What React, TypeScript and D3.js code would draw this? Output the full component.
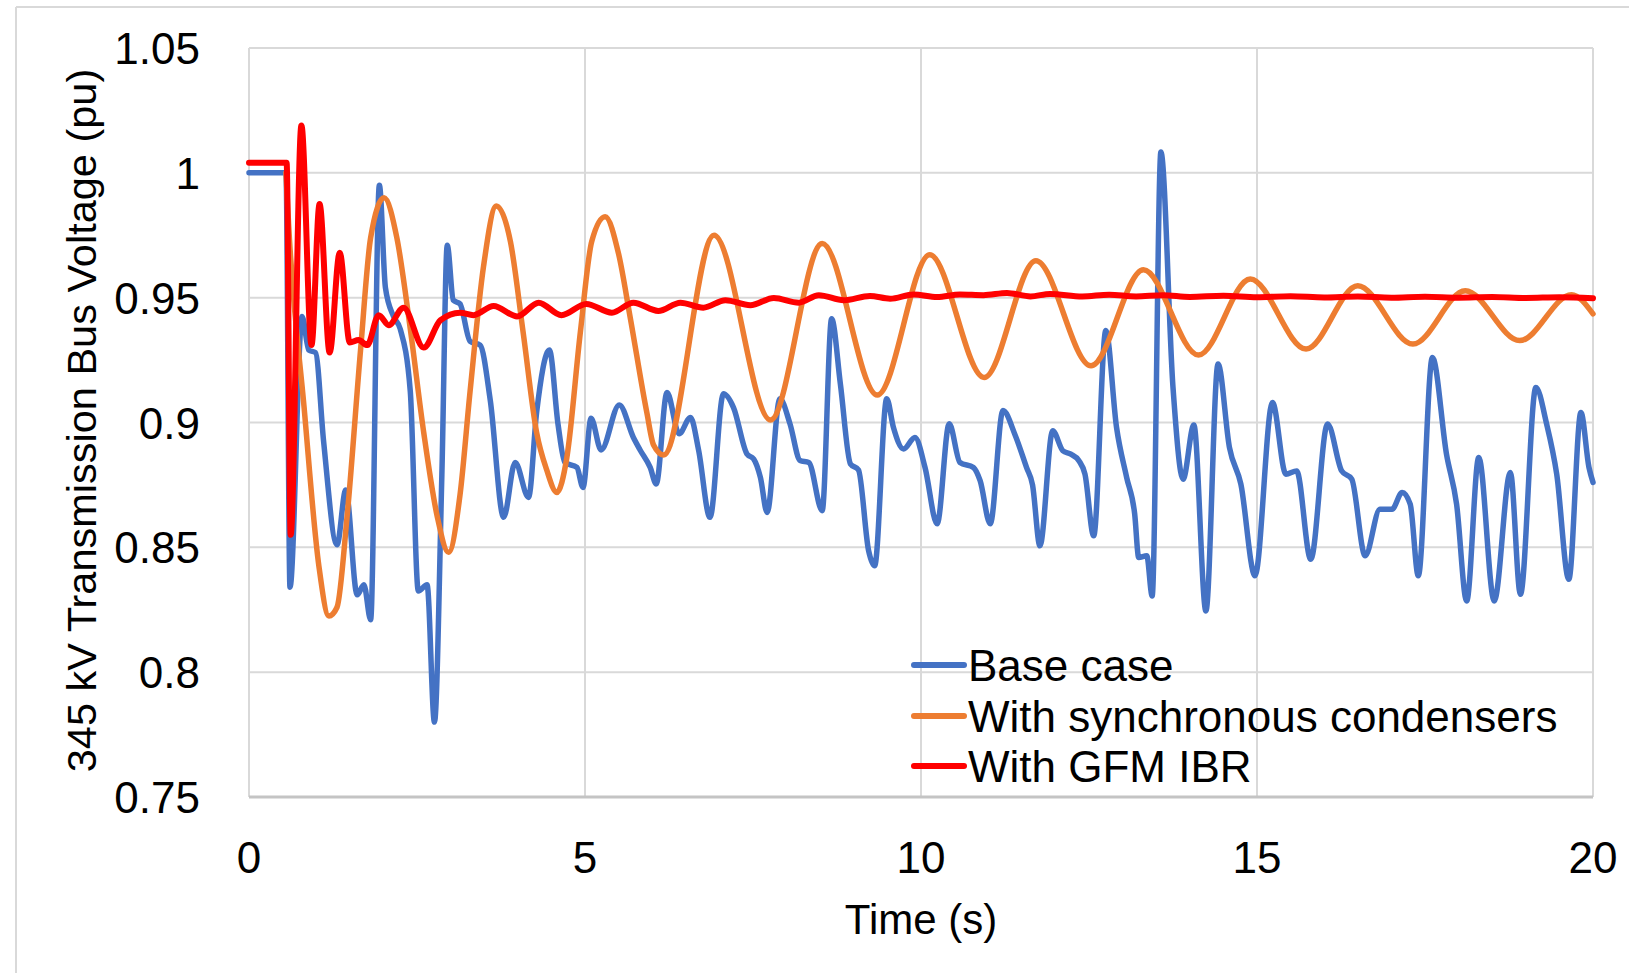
import * as d3 from 'd3';

const W = 1629;
const H = 973;

// Base case (blue)
const baseT = [0, 0.55, 0.61, 0.79, 0.89, 0.99, 1.11, 1.31, 1.44, 1.61, 1.71, 1.81, 1.94, 2.03, 2.15, 2.25, 2.4, 2.52, 2.65, 2.76, 2.87, 2.95, 3.04, 3.14, 3.29, 3.44, 3.59, 3.79, 3.96, 4.16, 4.28, 4.47, 4.6, 4.7, 4.88, 4.97, 5.09, 5.24, 5.51, 5.72, 5.82, 5.97, 6.06, 6.22, 6.4, 6.57, 6.69, 6.86, 7.06, 7.21, 7.41, 7.51, 7.61, 7.71, 7.9, 8.05, 8.2, 8.33, 8.53, 8.67, 8.8, 8.95, 9.07, 9.22, 9.31, 9.49, 9.59, 9.74, 9.91, 10.06, 10.24, 10.42, 10.58, 10.78, 10.88, 11.03, 11.22, 11.4, 11.57, 11.66, 11.77, 11.96, 12.11, 12.23, 12.35, 12.44, 12.57, 12.75, 12.91, 13.06, 13.18, 13.24, 13.36, 13.44, 13.57, 13.75, 13.9, 14.06, 14.24, 14.42, 14.59, 14.76, 14.97, 15.23, 15.43, 15.59, 15.8, 16.05, 16.26, 16.41, 16.61, 16.83, 17.01, 17.16, 17.28, 17.4, 17.61, 17.82, 17.97, 18.12, 18.3, 18.53, 18.77, 18.92, 19.15, 19.31, 19.46, 19.64, 19.82, 19.94, 20];
const baseV = [1.0, 1.0, 0.834, 0.9425, 0.929, 0.928, 0.8925, 0.851, 0.873, 0.831, 0.835, 0.821, 0.995, 0.954, 0.9425, 0.9375, 0.9125, 0.8325, 0.835, 0.78, 0.879, 0.971, 0.949, 0.9475, 0.9325, 0.931, 0.909, 0.862, 0.884, 0.87, 0.904, 0.929, 0.899, 0.884, 0.882, 0.874, 0.9017, 0.889, 0.907, 0.894, 0.889, 0.882, 0.8754, 0.912, 0.8955, 0.902, 0.889, 0.862, 0.9115, 0.906, 0.8874, 0.8854, 0.878, 0.864, 0.9095, 0.8995, 0.8848, 0.884, 0.8647, 0.9416, 0.9155, 0.8834, 0.881, 0.8487, 0.8426, 0.9095, 0.898, 0.8894, 0.894, 0.882, 0.8594, 0.8995, 0.884, 0.882, 0.8767, 0.8594, 0.9048, 0.895, 0.882, 0.875, 0.8506, 0.8967, 0.8887, 0.8873, 0.8847, 0.8793, 0.8546, 0.9368, 0.898, 0.878, 0.8633, 0.8459, 0.8466, 0.8305, 1.0083, 0.914, 0.8773, 0.899, 0.8245, 0.9234, 0.89, 0.8753, 0.8386, 0.908, 0.8793, 0.8806, 0.8452, 0.8994, 0.8806, 0.8773, 0.8466, 0.8653, 0.8653, 0.872, 0.8673, 0.8386, 0.926, 0.8873, 0.8673, 0.8285, 0.886, 0.8285, 0.88, 0.8312, 0.914, 0.8994, 0.8793, 0.8372, 0.904, 0.882, 0.876];

// With synchronous condensers (orange)
const syncT = [0.55, 0.59, 0.82, 1.04, 1.19, 1.31, 1.46, 1.66, 1.81, 2.01, 2.2, 2.4, 2.6, 2.8, 2.97, 3.14, 3.29, 3.49, 3.68, 3.89, 4.08, 4.28, 4.43, 4.58, 4.73, 4.93, 5.1, 5.3, 5.5, 5.67, 5.92, 6.02, 6.17, 6.92, 7.76, 8.53, 9.35, 10.13, 10.94, 11.71, 12.53, 13.31, 14.13, 14.9, 15.73, 16.5, 17.32, 18.1, 18.91, 19.68, 20];
const syncV = [1.0, 0.979, 0.906, 0.8425, 0.8225, 0.826, 0.8625, 0.929, 0.974, 0.99, 0.974, 0.9375, 0.896, 0.8625, 0.848, 0.871, 0.9125, 0.9625, 0.9867, 0.9725, 0.936, 0.896, 0.881, 0.872, 0.886, 0.936, 0.9725, 0.9824, 0.9675, 0.9425, 0.904, 0.891, 0.887, 0.975, 0.901, 0.9717, 0.911, 0.9672, 0.918, 0.9648, 0.9227, 0.9612, 0.927, 0.9575, 0.9294, 0.9548, 0.9314, 0.9528, 0.9328, 0.9512, 0.9435];

// With GFM IBR (red)
const gfmT = [0, 0.56, 0.62, 0.78, 0.93, 1.05, 1.2, 1.35, 1.5, 1.63, 1.76, 1.93, 2.08, 2.3, 2.6, 2.85, 3.14, 3.34, 3.64, 3.99, 4.31, 4.65, 5.02, 5.4, 5.72, 6.09, 6.42, 6.76, 7.09, 7.46, 7.81, 8.18, 8.48, 8.85, 9.24, 9.54, 9.89, 10.24, 10.58, 10.93, 11.28, 11.63, 11.92, 12.4, 12.8, 13.2, 13.6, 14.0, 14.5, 15.0, 15.5, 16.0, 16.5, 17.0, 17.5, 18.0, 18.5, 19.0, 19.5, 20];
const gfmV = [1.004, 1.004, 0.855, 1.019, 0.931, 0.9875, 0.928, 0.968, 0.932, 0.933, 0.931, 0.943, 0.939, 0.946, 0.93, 0.941, 0.944, 0.943, 0.9467, 0.9425, 0.948, 0.943, 0.9475, 0.944, 0.948, 0.9447, 0.948, 0.946, 0.949, 0.947, 0.9499, 0.948, 0.951, 0.949, 0.9507, 0.9496, 0.9513, 0.9503, 0.9513, 0.951, 0.9519, 0.9505, 0.9515, 0.9505, 0.9512, 0.9505, 0.951, 0.9503, 0.9508, 0.9502, 0.9506, 0.9501, 0.9505, 0.95, 0.9504, 0.95, 0.9503, 0.9499, 0.9502, 0.9498];

const xTicks = [0, 5, 10, 15, 20];
const yTicks = [0.75, 0.8, 0.85, 0.9, 0.95, 1, 1.05];
const yTickLabels = ['0.75', '0.8', '0.85', '0.9', '0.95', '1', '1.05'];

const seriesNames = ['Base case', 'With synchronous condensers', 'With GFM IBR'];
const seriesColors = ['#4472C4', '#ED7D31', '#FF0000'];

const FONT = '"Liberation Sans", Arial, sans-serif';

export default function App() {
  const x = d3.scaleLinear().domain([0, 20]).range([249, 1593]);
  const y = d3.scaleLinear().domain([0.75, 1.05]).range([797, 48]);

  const line = d3
    .line<[number, number]>()
    .x((d) => x(d[0]))
    .y((d) => y(d[1]))
    .curve(d3.curveMonotoneX);

  const series = [
    { t: baseT, v: baseV, w: 5.5 },
    { t: syncT, v: syncV, w: 5.5 },
    { t: gfmT, v: gfmV, w: 6 },
  ];

  const legendX = 914;
  const legendY = [665, 716, 766];

  return (
    <svg
      width={W}
      height={H}
      style={{ position: 'absolute', left: 0, top: 0, display: 'block', background: '#fff' }}
      fontFamily={FONT}
    >
      <rect x={0} y={0} width={W} height={H} fill="#fff" />
      {/* chart area border */}
      <line x1={16} y1={7} x2={W} y2={7} stroke="#d9d9d9" strokeWidth={2} />
      <line x1={16} y1={7} x2={16} y2={H} stroke="#d9d9d9" strokeWidth={2} />

      {/* horizontal grid */}
      {yTicks.slice(1).map((v) => (
        <line key={'gy' + v} x1={x(0)} x2={x(20)} y1={y(v)} y2={y(v)} stroke="#d9d9d9" strokeWidth={2} />
      ))}
      {/* vertical grid */}
      {xTicks.map((t) => (
        <line key={'gx' + t} x1={x(t)} x2={x(t)} y1={y(1.05)} y2={y(0.75)} stroke="#d9d9d9" strokeWidth={2} />
      ))}
      {/* x axis line */}
      <line x1={x(0)} x2={x(20)} y1={y(0.75)} y2={y(0.75)} stroke="#c4c4c4" strokeWidth={3} />

      {/* y tick labels */}
      {yTicks.map((v, i) => (
        <text key={'ty' + v} x={200} y={y(v) + 16} textAnchor="end" fontSize={44} fill="#000">
          {yTickLabels[i]}
        </text>
      ))}
      {/* x tick labels */}
      {xTicks.map((t) => (
        <text key={'tx' + t} x={x(t)} y={873} textAnchor="middle" fontSize={44} fill="#000">
          {t}
        </text>
      ))}

      {/* axis titles */}
      <text x={921} y={934} textAnchor="middle" fontSize={42} fill="#000">
        Time (s)
      </text>
      <text
        transform={`translate(96,${(y(0.75) + y(1.05)) / 2 - 2}) rotate(-90)`}
        textAnchor="middle"
        fontSize={41.5}
        fill="#000"
      >
        345 kV Transmission Bus Voltage (pu)
      </text>

      {/* series */}
      {series.map((s, i) => (
        <path
          key={'s' + i}
          d={line(s.t.map((t, j) => [t, s.v[j]] as [number, number])) || ''}
          fill="none"
          stroke={seriesColors[i]}
          strokeWidth={s.w}
          strokeLinejoin="round"
          strokeLinecap="round"
        />
      ))}

      {/* legend */}
      {seriesNames.map((name, i) => (
        <g key={'lg' + i}>
          <line
            x1={legendX}
            x2={legendX + 50}
            y1={legendY[i]}
            y2={legendY[i]}
            stroke={seriesColors[i]}
            strokeWidth={6}
            strokeLinecap="round"
          />
          <text x={legendX + 54} y={legendY[i] + 16} fontSize={44} fill="#000">
            {name}
          </text>
        </g>
      ))}
    </svg>
  );
}
